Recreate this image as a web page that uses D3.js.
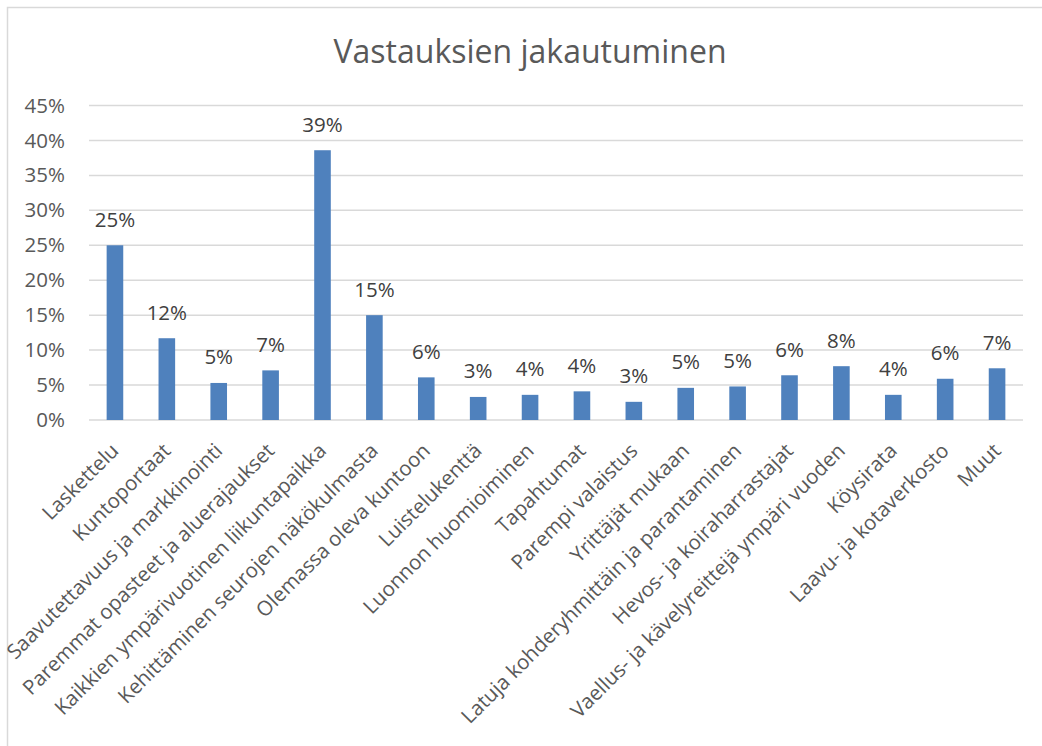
<!DOCTYPE html>
<html>
<head>
<meta charset="utf-8">
<script src="https://cdn.jsdelivr.net/npm/d3@7"></script>
<style>
  html, body { margin: 0; padding: 0; background: #fff; }
  svg { display: block; font-family: "Open Sans", "Noto Sans", sans-serif; }
</style>
</head>
<body>
<svg id="chart"></svg>
<script>
const title = "Vastauksien jakautuminen";

const categories = [
  "Laskettelu",
  "Kuntoportaat",
  "Saavutettavuus ja markkinointi",
  "Paremmat opasteet ja aluerajaukset",
  "Kaikkien ympärivuotinen liikuntapaikka",
  "Kehittäminen seurojen näkökulmasta",
  "Olemassa oleva kuntoon",
  "Luistelukenttä",
  "Luonnon huomioiminen",
  "Tapahtumat",
  "Parempi valaistus",
  "Yrittäjät mukaan",
  "Latuja kohderyhmittäin ja parantaminen",
  "Hevos- ja koiraharrastajat",
  "Vaellus- ja kävelyreittejä ympäri vuoden",
  "Köysirata",
  "Laavu- ja kotaverkosto",
  "Muut"
];

const shares = [
  0.250, 0.117, 0.053, 0.071, 0.386, 0.150, 0.061, 0.033, 0.036,
  0.041, 0.026, 0.046, 0.048, 0.064, 0.077, 0.036, 0.059, 0.074
];

const yTicks = [0, 0.05, 0.10, 0.15, 0.20, 0.25, 0.30, 0.35, 0.40, 0.45];

const W = 1042, H = 746;
const margin = { top: 105.5, right: 19, bottom: 326, left: 89 };
const width = W - margin.left - margin.right;
const height = H - margin.top - margin.bottom;

const textColor = "#595959";
const gridColor = "#d9d9d9";
const barColor = "#4f81bd";
const fontSize = "20.5px";

const svg = d3.select("#chart")
  .attr("width", W)
  .attr("height", H);

svg.append("rect")
  .attr("x", 7.5).attr("y", 7.5)
  .attr("width", W).attr("height", H)
  .attr("fill", "#fff")
  .attr("stroke", gridColor)
  .attr("stroke-width", 1.5);

svg.append("text")
  .attr("x", 530)
  .attr("y", 63)
  .attr("text-anchor", "middle")
  .attr("fill", textColor)
  .style("font-size", "32px")
  .text(title);

const g = svg.append("g")
  .attr("transform", `translate(${margin.left},${margin.top})`);

const x = d3.scaleBand()
  .domain(categories)
  .range([0, width])
  .padding(0);

const y = d3.scaleLinear()
  .domain([0, 0.45])
  .range([height, 0]);

// gridlines
g.append("g")
  .selectAll("line")
  .data(yTicks)
  .join("line")
  .attr("x1", 0)
  .attr("x2", width)
  .attr("y1", d => y(d))
  .attr("y2", d => y(d))
  .attr("stroke", gridColor)
  .attr("stroke-width", 1.5);

// y axis labels
const yAxis = g.append("g")
  .call(d3.axisLeft(y).tickValues(yTicks).tickFormat(d3.format(".0%")).tickSize(0).tickPadding(24));
yAxis.select(".domain").remove();
yAxis.selectAll("text")
  .attr("fill", textColor)
  .style("font-size", fontSize)
  .style("font-family", "'Open Sans', 'Noto Sans', sans-serif");

// bars
const barW = x.bandwidth() * 0.32;
const cx = d => x(d) + x.bandwidth() / 2;

g.selectAll("rect.bar")
  .data(shares)
  .join("rect")
  .attr("class", "bar")
  .attr("x", (d, i) => cx(categories[i]) - barW / 2)
  .attr("y", d => y(d))
  .attr("width", barW)
  .attr("height", d => height - y(d))
  .attr("fill", barColor);

// data labels
g.selectAll("text.val")
  .data(shares)
  .join("text")
  .attr("class", "val")
  .attr("x", (d, i) => cx(categories[i]))
  .attr("y", d => y(d) - 18.5)
  .attr("text-anchor", "middle")
  .attr("fill", "#404040")
  .style("font-size", fontSize)
  .text(d => d3.format(".0%")(d));

// category labels, rotated
g.append("g")
  .selectAll("text")
  .data(categories)
  .join("text")
  .attr("text-anchor", "end")
  .attr("fill", textColor)
  .style("font-size", fontSize)
  .attr("transform", d => `translate(${cx(d) + 5},${height + 32}) rotate(-45)`)
  .text(d => d);
</script>
</body>
</html>
